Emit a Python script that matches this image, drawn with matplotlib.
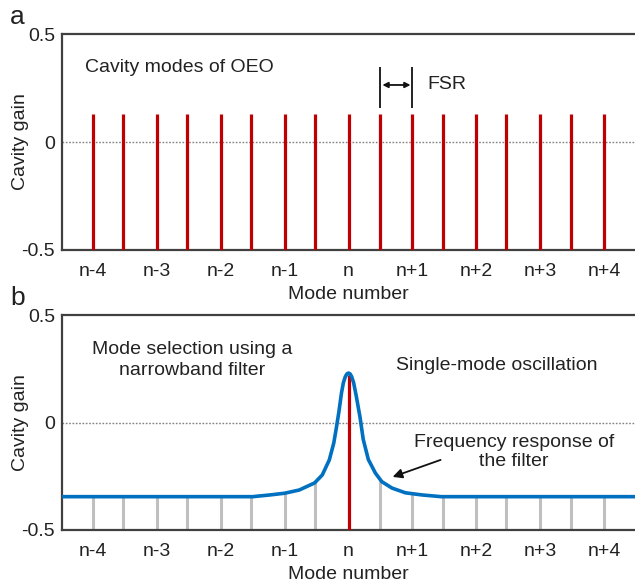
import matplotlib
matplotlib.use("Agg")
import matplotlib.pyplot as plt

plt.rcParams['font.family'] = ['Liberation Sans', 'DejaVu Sans']

# ---- data ----
tick_pos = [-4, -3, -2, -1, 0, 1, 2, 3, 4]
tick_labels = ["n-4", "n-3", "n-2", "n-1", "n", "n+1", "n+2", "n+3", "n+4"]

mode_pos = [-4, -3.53, -3, -2.52, -2, -1.53, -1, -0.52, 0, 0.5, 1, 1.48, 2, 2.47, 3, 3.48, 4]
mode_gain_a = [0.13] * 17

# panel b: grey (suppressed) modes, top of each line sits on the filter curve
gray_tops_b = [-0.345, -0.345, -0.345, -0.345, -0.345, -0.34, -0.329, -0.27, None,
               -0.27, -0.33, -0.345, -0.345, -0.345, -0.345, -0.345, -0.345]
selected_mode = 0
selected_gain = 0.22

filter_x = [-4.48, -1.50, -1.23, -1.00, -0.77, -0.53, -0.41, -0.30, -0.23, -0.19,
            -0.15, -0.11, -0.08, -0.05, -0.025, 0.0, 0.025, 0.05, 0.08, 0.12, 0.18, 0.23, 0.31,
            0.42, 0.52, 0.68, 0.89, 1.15, 1.45, 4.48]
filter_y = [-0.345, -0.345, -0.337, -0.329, -0.314, -0.281, -0.244, -0.174, -0.095, -0.025,
            0.05, 0.137, 0.185, 0.213, 0.226, 0.230, 0.226, 0.213, 0.185, 0.125, 0.025, -0.078, -0.172,
            -0.235, -0.275, -0.305, -0.327, -0.337, -0.345, -0.345]

RED = "#C00000"
BLUE = "#0070C0"
GRAY = "#BFBFBF"
SPINE = "#404040"
TXT = "#222222"
FS = 14

fig = plt.figure(figsize=(6.35, 5.84), dpi=100)
axa = fig.add_axes([62/635, 1-250/584, 1-62/635, 216/584])
axb = fig.add_axes([62/635, 1-530/584, 1-62/635, 215/584])

for ax in (axa, axb):
    ax.set_xlim(-4.48, 4.48)
    ax.set_ylim(-0.5, 0.5)
    ax.spines['right'].set_visible(False)
    for s in ('left', 'top', 'bottom'):
        ax.spines[s].set_color(SPINE)
        ax.spines[s].set_linewidth(1.6)
    ax.set_xticks(tick_pos)
    ax.set_xticklabels(tick_labels)
    ax.set_yticks([-0.5, 0, 0.5])
    ax.set_yticklabels(["-0.5", "0", "0.5"])
    ax.tick_params(axis='x', length=0, pad=9, labelsize=FS, labelcolor=TXT)
    ax.tick_params(axis='y', length=0, pad=5, labelsize=FS, labelcolor=TXT)
    ax.axhline(0, color="#808080", lw=1.0, ls=(0, (1.2, 1.2)), zorder=1)
    ax.set_xlabel("Mode number", fontsize=FS, labelpad=5, color=TXT)
    ax.set_ylabel("Cavity gain", fontsize=FS, color=TXT)
    ax.yaxis.set_label_coords(-0.057, 0.5)

# ---- panel a ----
axa.vlines(mode_pos, -0.5, mode_gain_a, color=RED, lw=2.3, zorder=3)
axa.text(-4.125, 0.343, "Cavity modes of OEO", fontsize=FS, ha='left', va='center', color=TXT)
x1, x2 = mode_pos[9], mode_pos[10]
axa.vlines([x1, x2], 0.157, 0.347, color=TXT, lw=1.4)
axa.annotate("", xy=(x1 + 0.03, 0.264), xytext=(x2 - 0.03, 0.264),
             arrowprops=dict(arrowstyle="<|-|>", color="#111111", lw=1.3,
                             mutation_scale=8, shrinkA=0, shrinkB=0))
axa.text(1.23, 0.264, "FSR", fontsize=FS, ha='left', va='center', color=TXT)
fig.text(10/635, 1-17/584, "a", fontsize=19, ha='left', va='center', color=TXT)

# ---- panel b ----
gx = [p for p, t in zip(mode_pos, gray_tops_b) if t is not None]
gt = [t for t in gray_tops_b if t is not None]
axb.vlines(gx, -0.5, gt, color=GRAY, lw=2.2, zorder=2)
axb.vlines([selected_mode], -0.5, [selected_gain], color=RED, lw=2.3, zorder=3)
axb.plot(filter_x, filter_y, color=BLUE, lw=2.6, zorder=4, solid_joinstyle='round')
axb.text(-2.44, 0.29, "Mode selection using a\nnarrowband filter", fontsize=FS,
         ha='center', va='center', color=TXT, linespacing=1.35)
axb.text(0.75, 0.267, "Single-mode oscillation", fontsize=FS, ha='left', va='center', color=TXT)
axb.text(2.59, -0.138, "Frequency response of\nthe filter", fontsize=FS,
         ha='center', va='center', color=TXT, linespacing=1.2)
axb.annotate("", xy=(0.69, -0.253), xytext=(1.44, -0.174),
             arrowprops=dict(arrowstyle="-|>", color="#111111", lw=1.3,
                             mutation_scale=14, shrinkA=0, shrinkB=0))
fig.text(10/635, 1-298/584, "b", fontsize=19, ha='left', va='center', color=TXT)

fig.savefig("out.png", dpi=100)
